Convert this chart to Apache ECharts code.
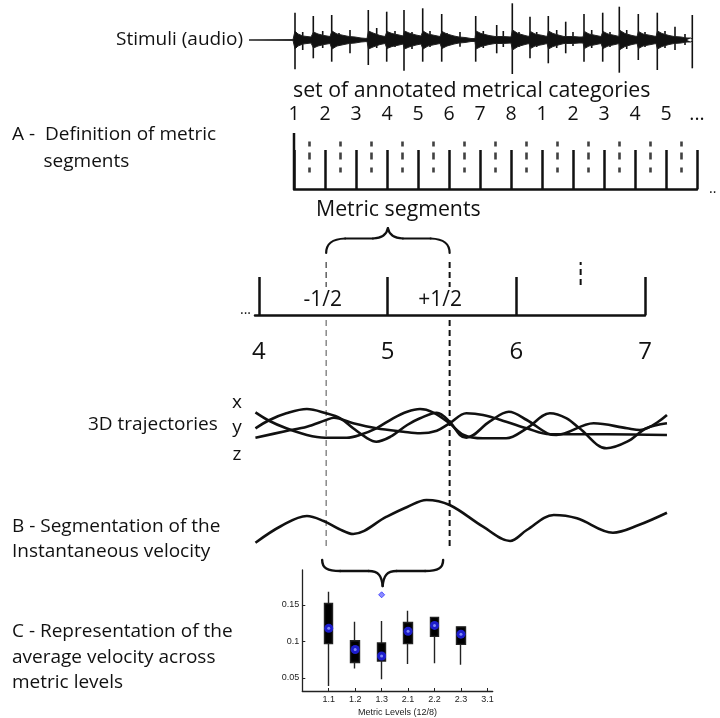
<!DOCTYPE html>
<html><head><meta charset="utf-8">
<script src="https://cdn.jsdelivr.net/npm/echarts@6/dist/echarts.min.js"></script>
<style>html,body{margin:0;padding:0;background:#fff}#c{width:720px;height:718px}</style>
</head><body><div id="c"></div>
<script>
// ---------- DATA ----------
// audio: [time, top amplitude, bottom amplitude] of each onset spike
const audioOnsets = [[2,27.3,29.3],[20.3,24,18.3],[38.7,25,21.7],[57,10,13.3],[75.3,30,25],[93.7,28.3,21.7],[111,30,30.7],[129.7,31.7,21.7],[148.7,26,21.7],[167,8,6.7],[182.7,24,21.7],[203.7,15,13.3],[219.3,36.7,34],[237,23.3,18.3],[255.3,24,23.3],[272.7,18.3,13.3],[291,26,21.7],[309.7,27.3,21.7],[326.3,33.3,32.7],[345.3,26,20],[364.3,27.3,30],[382,13.3,10],[399.3,25,28.3]];
// smaller secondary transients: [time, top, bottom]
const audioMinor = [[9.7,8,10],[29.7,9,8],[46,7,6],[83.7,12,8],[102,9,7],[119,8,9],[137,9,7],[154,7,6],[190.3,9,8],[210.3,9,7],[226,8,7],[243.7,8,7],[263.7,10,8],[280,8,6],[298.7,10,8],[317,8,7],[333.7,10,9],[352,8,7],[372,9,8],[392,6,5]];
// audio body envelope: [time, amplitude]
const audioEnvelope = [[-44,0],[0,0.4],[2,9],[5,6],[10,4],[18,3],
[20.5,8],[25,6],[31,4.5],[37,3.5],
[39,9],[44,6],[51,4.5],[56,3.5],[58,5.5],[62,3],[68,2],[74,1.5],
[75.5,9],[80,7],[87,4.5],[92,3.5],
[94,8.5],[99,6.5],[106,5],[110,4],
[111.5,9],[116,7],[123,5],[128,4],
[130,9],[135,6],[142,4.5],[147,3.5],
[149,8.5],[154,6],[161,4],[166,3],[168,4.5],[172,2.5],[178,1.5],[182,1.5],
[183,9],[188,6.5],[196,4.5],[202,3.5],[204,5.5],[210,3.5],[218,3],
[219.5,10],[225,6.5],[232,4.5],[236,3.5],
[237.5,8.5],[242,6],[250,4.5],[254,3.5],
[255.5,9],[260,6.5],[267,4.5],[271,3.5],[273,5.5],[280,3.5],[286,3],[290,3],
[291.5,8.5],[296,6],[303,4.5],[308,3.5],
[310,8.5],[315,6],[322,4.5],[326,3.5],
[327,9.5],[332,6.5],[339,4.5],[344,3.5],
[345.5,8.5],[350,6],[358,4.5],[363,3.5],
[364.5,9],[369,6.5],[376,4.5],[381,3.5],[382.5,5.5],[388,3],[394,2],[398,2],[399.5,3],[400,0]];

const metricLabels = ['1','2','3','4','5','6','7','8','1','2','3','4','5','...'];
const metricTicks = [0,1,2,3,4,5,6,7,8,9,10,11,12,13];
const subdivisionMarks = [0.5,1.5,2.5,3.5,4.5,5.5,6.5,7.5,8.5,9.5,10.5,11.5,12.5];
const beatLabels = [4,5,6,7];
const beatSubMarks = [6.5];
const segmentBounds = [4.52, 5.48];
const segmentLabels = ['-1/2','+1/2'];

// 3D trajectories: [time (beats), position]
const trajX = [[3.97,47.7],[4.08,39],[4.21,31.7],[4.37,25],[4.51,22.3],[4.68,22.3],[4.78,25],[4.91,31.7],[5.04,41.7],[5.15,48.3],[5.25,51],[5.35,47.7],[5.48,36.7],[5.59,25],[5.74,21.7],[5.92,21.7],[6.08,31.7],[6.26,46.7],[6.39,41.7],[6.49,31.7],[6.70,11.7],[6.86,18.3],[7.01,31.7],[7.17,36.7]];
const trajY = [[3.97,31.7],[4.08,40],[4.21,46.7],[4.37,51],[4.52,46.7],[4.63,41.7],[4.73,31.7],[4.84,21.7],[4.91,18.3],[5.02,23.3],[5.15,35],[5.25,41.7],[5.38,47.3],[5.48,38.3],[5.56,25],[5.61,22.3],[5.79,38.3],[5.94,48.3],[6.08,40],[6.24,26.7],[6.31,25],[6.60,36.7],[6.86,31.7],[6.96,30],[7.17,45]];
const trajZ = [[3.97,22.3],[4.21,29],[4.37,33.3],[4.52,40],[4.58,42.3],[4.73,36.7],[4.91,31.7],[5.12,28.3],[5.25,26.7],[5.38,29.3],[5.48,36.7],[5.61,46.7],[5.74,45],[5.92,38.3],[6.08,31.7],[6.26,25.7],[6.70,25.7],[7.17,25]];
// instantaneous velocity
const velocity = [[3.97,7.3],[4.17,24],[4.37,34],[4.50,29],[4.62,21],[4.73,16],[4.99,33.3],[5.15,43],[5.30,50],[5.48,45],[5.74,23.3],[5.95,9],[6.08,20],[6.29,35],[6.47,31.7],[6.75,17.3],[6.95,25],[7.17,37.3]];

// boxplot (average velocity per metric level)
const levels = ['1.1','1.2','1.3','2.1','2.2','2.3','3.1'];
const boxMin    = [0.039, 0.063, 0.048, 0.069, 0.070, 0.068, null];
const boxQ1     = [0.097, 0.071, 0.073, 0.097, 0.107, 0.096, null];
const boxQ3     = [0.152, 0.101, 0.098, 0.126, 0.133, 0.120, null];
const boxMax    = [0.168, 0.127, 0.128, 0.142, 0.134, 0.121, null];
const boxMedian = [0.118, 0.089, 0.080, 0.114, 0.122, 0.110, null];
const outliers  = [['1.3', 0.164]];
const yTicks = [0.05, 0.1, 0.15];

// ---------- CHART ----------
const F = '"Open Sans", "Noto Sans", sans-serif';
const A = '"Liberation Sans", Arial, sans-serif';
const INK = '#111';
const chart = echarts.init(document.getElementById('c'));

const hid = (g, min, max) => ({type:'value', gridIndex:g, min, max, show:false, axisLine:{onZero:false}});
const lvlIdx = levels.map((_, i) => i + 1);
const boxData = [];
levels.forEach((lv, i) => { if (boxMin[i] != null) boxData.push([i+1, boxQ1[i], boxQ3[i], boxMin[i], boxMax[i]]); });
const medData = [];
levels.forEach((lv, i) => { if (boxMedian[i] != null) medData.push([i+1, boxMedian[i]]); });
const spikes = audioOnsets.concat(audioMinor);

const option = {
  animation: false,
  grid: [
    {left:249, top:3, width:444, height:74},
    {left:294, top:133, width:403, height:56},
    {left:255, top:255, width:390, height:60},
    {left:195, top:400, width:514.4, height:60},
    {left:195, top:490, width:514.4, height:60},
    {left:302.3, top:570, width:190.4, height:121.7}
  ],
  xAxis: [
    hid(0, -44, 400),
    {type:'value', gridIndex:1, min:0, max:13, interval:1, position:'bottom',
     axisLine:{show:true, onZero:false, lineStyle:{color:INK, width:2.5}},
     axisTick:{show:true, inside:true, length:39, lineStyle:{color:INK, width:2.5}},
     axisLabel:{show:false}, splitLine:{show:false}},
    {type:'value', gridIndex:1, min:0, max:13, position:'top',
     axisLine:{show:false, onZero:false}, axisTick:{show:false}, splitLine:{show:false},
     axisLabel:{show:true, customValues:metricTicks, formatter:v => metricLabels[Math.round(v)],
       fontSize:19.5, fontFamily:F, color:INK, margin:9}},
    {type:'value', gridIndex:2, min:3.97, max:7.0,
     axisLine:{show:true, onZero:false, lineStyle:{color:INK, width:2.5}},
     axisTick:{show:true, inside:true, length:38, customValues:beatLabels, lineStyle:{color:INK, width:2.5}},
     axisLabel:{show:true, customValues:beatLabels, fontSize:24, fontFamily:F, color:INK, margin:25},
     splitLine:{show:false}},
    hid(3, 3.5, 7.5),
    hid(4, 3.5, 7.5),
    {type:'value', gridIndex:5, min:0, max:7.2,
     axisLine:{show:true, onZero:false, lineStyle:{color:'#222', width:1.3}},
     axisTick:{show:true, inside:true, length:3, customValues:lvlIdx, lineStyle:{color:'#222'}},
     axisLabel:{show:true, customValues:lvlIdx, formatter:v => levels[Math.round(v)-1], fontSize:9, fontFamily:A, color:'#222', margin:4},
     splitLine:{show:false},
     name:'Metric Levels (12/8)', nameLocation:'middle', nameGap:17,
     nameTextStyle:{fontSize:9, fontFamily:A, color:'#222'}}
  ],
  yAxis: [
    hid(0, -37, 37),
    hid(1, 0, 56),
    hid(2, 0, 60),
    hid(3, 0, 60),
    hid(4, 0, 60),
    {type:'value', gridIndex:5, min:0.032, max:0.198,
     axisLine:{show:true, onZero:false, lineStyle:{color:'#222', width:1.3}},
     axisTick:{show:true, inside:true, length:3, customValues:yTicks, lineStyle:{color:'#222'}},
     axisLabel:{show:true, customValues:yTicks, formatter:v => String(v), fontSize:9, fontFamily:A, color:'#222', margin:3},
     splitLine:{show:false}}
  ],
  series: [
    {type:'line', xAxisIndex:0, yAxisIndex:0, data:audioEnvelope.map(p => [p[0], p[1]]), symbol:'none',
     lineStyle:{color:'#222', width:1}, areaStyle:{color:INK, opacity:1}, silent:true},
    {type:'line', xAxisIndex:0, yAxisIndex:0, data:audioEnvelope.map(p => [p[0], -p[1]]), symbol:'none',
     lineStyle:{color:'#222', width:1}, areaStyle:{color:INK, opacity:1}, silent:true},
    {type:'bar', xAxisIndex:0, yAxisIndex:0, data:spikes.map(o => [o[0], o[1]]), barWidth:1.6, barGap:'-100%',
     itemStyle:{color:INK}, silent:true},
    {type:'bar', xAxisIndex:0, yAxisIndex:0, data:spikes.map(o => [o[0], -o[2]]), barWidth:1.6, barGap:'-100%',
     itemStyle:{color:INK}, silent:true},
    // ruler 1
    {type:'line', xAxisIndex:1, yAxisIndex:1, data:[[metricTicks[0],0],[metricTicks[0],56]], symbol:'none',
     lineStyle:{color:INK, width:2.5}, silent:true},
    {type:'scatter', xAxisIndex:1, yAxisIndex:1, data:subdivisionMarks.map(s => [s, 32]),
     symbol:'path://M0,0H3V5H0Z M0,11H3V18H0Z M0,26H3V31H0Z', symbolSize:[2.6,31],
     itemStyle:{color:INK}, silent:true},
    // ruler 2 subdivision
    {type:'line', xAxisIndex:3, yAxisIndex:2, data:[[beatSubMarks[0],30],[beatSubMarks[0],53]], symbol:'none',
     lineStyle:{color:INK, width:2, type:[6,4]}, silent:true},
    // trajectories
    ...[trajX, trajY, trajZ].map(d => ({type:'line', xAxisIndex:4, yAxisIndex:3, data:d, smooth:0.35, symbol:'none',
      lineStyle:{color:INK, width:2.6}, silent:true})),
    {type:'line', xAxisIndex:5, yAxisIndex:4, data:velocity, smooth:0.35, symbol:'none',
     lineStyle:{color:INK, width:2.6}, silent:true},
    // boxplot (compact style)
    {type:'candlestick', xAxisIndex:6, yAxisIndex:5, data:boxData,
     dimensions:['x','open','close','lowest','highest'],
     encode:{x:'x', y:['open','close','lowest','highest']},
     barWidth:9,
     itemStyle:{color:'#000', color0:'#000', borderColor:'#222', borderColor0:'#222', borderWidth:1.4}, silent:true},
    {type:'scatter', xAxisIndex:6, yAxisIndex:5, data:medData, symbol:'circle', symbolSize:9,
     itemStyle:{color:'#2424ff'}, silent:true},
    {type:'scatter', xAxisIndex:6, yAxisIndex:5, data:medData, symbol:'circle', symbolSize:3,
     itemStyle:{color:'#9aa6ff'}, silent:true},
    {type:'scatter', xAxisIndex:6, yAxisIndex:5, data:outliers.map(o => [levels.indexOf(o[0])+1, o[1]]),
     symbol:'diamond', symbolSize:6, itemStyle:{color:'#7070ff', borderColor:'#3030ff', borderWidth:1}, silent:true}
  ]
};
chart.setOption(option);

// ---------- ANNOTATIONS ----------
const px = t => chart.convertToPixel({xAxisIndex:4}, t);
const L = px(segmentBounds[0]), R = px(segmentBounds[1]), M = (L + R) / 2;
const bl = L - 4, br = R - 6.5, bm = (bl + br) / 2;
function txt(text, x, y, size, align, fam) {
  return {type:'text', silent:true, style:{text, x, y, font: size + 'px ' + (fam || F), fill:INK,
    textAlign:align || 'left', align:align || 'left', textVerticalAlign:'middle', verticalAlign:'middle'}};
}
function vline(x, y1, y2, color, w) {
  return {type:'line', silent:true, shape:{x1:x, y1, x2:x, y2}, style:{stroke:color, lineWidth:w, lineDash:[6,4]}};
}
function bez(x1, y1, c1x, c1y, c2x, c2y, x2, y2, w) {
  return {type:'bezierCurve', silent:true, shape:{x1, y1, x2, y2, cpx1:c1x, cpy1:c1y, cpx2:c2x, cpy2:c2y},
    style:{stroke:INK, lineWidth:w, fill:null, lineCap:'round'}};
}
function seg(x1, y1, x2, y2, w) {
  return {type:'line', silent:true, shape:{x1, y1, x2, y2}, style:{stroke:INK, lineWidth:w, lineCap:'round'}};
}
const braceTop = [
  bez(L, 253, L, 244, L+5, 239, L+19, 238.5, 2.2),
  seg(L+19, 238.5, M-15, 238.5, 2.2),
  bez(M-15, 238.5, M-5, 238, M-1, 234, M, 228, 2.2),
  bez(M, 228, M+1, 234, M+5, 238, M+15, 238.5, 2.2),
  seg(M+15, 238.5, R-19, 238.5, 2.2),
  bez(R-19, 238.5, R-5, 239, R, 244, R, 253, 2.2)
];
const braceBot = [
  bez(bl, 560, bl, 568, bl+5, 571, bl+18, 571, 2.4),
  seg(bl+18, 571, bm-14, 571, 2.4),
  bez(bm-14, 571, bm-4, 571, bm-1, 576, bm, 586, 2.4),
  bez(bm, 586, bm+1, 576, bm+4, 571, bm+14, 571, 2.4),
  seg(bm+14, 571, br-18, 571, 2.4),
  bez(br-18, 571, br-5, 571, br, 568, br, 560, 2.4)
];

chart.setOption({graphic:[
  txt('Stimuli (audio)', 243, 40, 19, 'right'),
  txt('set of annotated metrical categories', 293, 91, 21.3),
  txt('A -', 12, 135, 19),
  txt('Definition of metric', 45, 135, 19),
  txt('segments', 43.5, 161.5, 19),
  txt('..', 709, 189, 14),
  txt('Metric segments', 316, 210, 21.3),
  txt(segmentLabels[0], L - 3.5, 300, 21, 'center'),
  txt(segmentLabels[1], R - 9.5, 300, 21, 'center'),
  txt('...', 251, 310, 14, 'right'),
  txt('3D trajectories', 88, 425, 19),
  txt('x', 237, 403, 19, 'center'),
  txt('y', 237, 428, 19, 'center'),
  txt('z', 237, 455, 19, 'center'),
  txt('B - Segmentation of the', 12, 527, 19),
  txt('Instantaneous velocity', 12, 552, 19),
  txt('C - Representation of the', 12, 632, 19),
  txt('average velocity across', 12, 658, 19),
  txt('metric levels', 12, 683, 19),
  ...braceTop, ...braceBot,
  vline(L, 262, 287, '#555', 1.4), vline(L, 320, 546, '#777', 1.3),
  vline(R, 262, 287, INK, 2), vline(R, 320, 546, INK, 2)
]});
</script></body></html>
